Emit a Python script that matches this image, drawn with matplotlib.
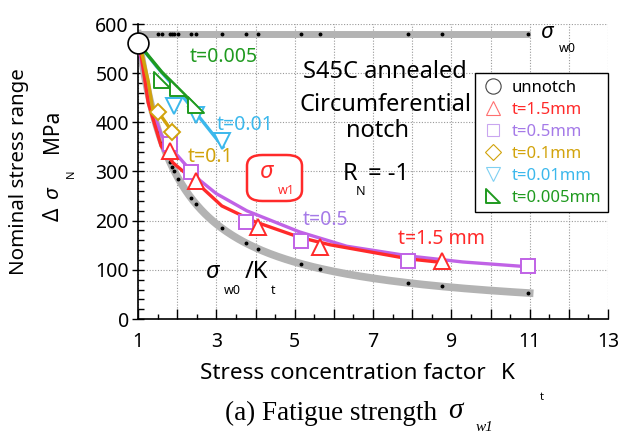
import matplotlib
matplotlib.use("Agg")
import numpy as np
import matplotlib.pyplot as plt
from matplotlib.lines import Line2D
from matplotlib.patches import FancyBboxPatch
from matplotlib.path import Path

plt.rcParams['font.family'] = ['Noto Sans', 'DejaVu Sans']

# ---- data ----
sigma_w0 = 580          # plain-specimen fatigue limit line
unnotch_kt = [1.0]
unnotch_s = [561]

# Kt values of the tested specimens (black dots on the reference lines)
kt_dots = [1.52, 1.62, 1.82, 1.88, 1.93, 2.03, 2.35, 2.48, 3.15, 3.76,
           4.06, 5.15, 5.65, 7.89, 8.76, 10.97]

# markers (experimental sigma_w1)
red_kt = [1.82, 2.48, 4.06, 5.65, 8.76]
red_s = [341, 281, 187, 146, 118]
vio_kt = [1.82, 2.35, 3.76, 5.15, 7.89, 10.97]
vio_s = [356, 299, 197, 159, 118, 108]
gold_kt = [1.52, 1.88]
gold_s = [421, 380]
cyan_kt = [1.93, 2.48, 3.15]
cyan_s = [433, 415, 362]
green_kt = [1.62, 2.03, 2.48]
green_s = [486, 470, 435]

# curves through each series
red_line_kt = [1.0, 1.08, 1.26, 1.59, 1.89, 2.5, 3.14, 3.98, 5.13, 5.9, 7.94, 8.76]
red_line_s = [561, 537, 440, 352, 318, 277, 230, 198, 166, 151, 122, 115]
vio_line_kt = [1.0, 1.1, 1.3, 1.59, 1.87, 2.2, 2.58, 3.0, 3.78, 5.13, 6.33, 7.94, 9.29, 11.0]
vio_line_s = [561, 520, 440, 375, 345, 315, 282, 255, 220, 177, 148, 128, 116, 106]
gold_line_kt = [1.0, 1.08, 1.26, 1.38, 1.52, 1.88]
gold_line_s = [561, 547, 484, 425, 421, 380]
cyan_line_kt = [1.0, 1.48, 2.15, 3.17]
cyan_line_s = [561, 513, 452, 350]
green_line_kt = [1.0, 1.61, 1.99, 2.63]
green_line_s = [561, 502, 472, 421]

RED = "#ff2a2a"
VIO = "#c062e6"
VIO_T = "#a57ae8"
GOLD = "#d2a30c"
CYAN = "#3cb8ec"
GREEN = "#1f9a1f"
GRAY = "#b3b3b3"

W, H = 619, 436
fig = plt.figure(figsize=(W / 100, H / 100), dpi=100)
ax = fig.add_axes([138 / W, 1 - 319 / H, 470 / W, 295 / H])


def px(x, y):
    return x / W, 1 - y / H


# sigma_w0 line and sigma_w0/Kt curve
ax.plot([1, 11], [sigma_w0, sigma_w0], color=GRAY, lw=5, zorder=2, solid_capstyle="butt")
ax.plot(kt_dots, [sigma_w0] * len(kt_dots), "o", color="k", ms=1.8, zorder=3)
kt_curve = np.linspace(1, 11, 200)
ax.plot(kt_curve, sigma_w0 / kt_curve, color=GRAY, lw=5.5, zorder=2)
ax.plot(kt_dots, sigma_w0 / np.array(kt_dots), "o", color="k", ms=1.8, zorder=3)

# series lines
ax.plot(vio_line_kt, vio_line_s, color=VIO, lw=2.4, zorder=4)
ax.plot(red_line_kt, red_line_s, color=RED, lw=2.4, zorder=4)
ax.plot(gold_line_kt, gold_line_s, color=GOLD, lw=2.4, zorder=4)
ax.plot(cyan_line_kt, cyan_line_s, color=CYAN, lw=2.4, zorder=4)
ax.plot(green_line_kt, green_line_s, color=GREEN, lw=2.4, zorder=4)

corner_tri = Path([(-1, 1), (-1, -1), (1, -1), (-1, 1)],
                  [Path.MOVETO, Path.LINETO, Path.LINETO, Path.CLOSEPOLY])

mk = dict(mfc="white", mew=1.4, ls="none", zorder=6)
ax.plot(vio_kt, vio_s, "s", mec=VIO, ms=10, **mk)
ax.plot(red_kt, red_s, "^", mec=RED, ms=11, **mk)
ax.plot(gold_kt, gold_s, "D", mec=GOLD, ms=8.5, **mk)
ax.plot(cyan_kt, cyan_s, "v", mec=CYAN, ms=11, **mk)
ax.plot(green_kt, green_s, marker=corner_tri, mec=GREEN, ms=11, **mk)
ax.plot(unnotch_kt, unnotch_s, "o", mec="k", ms=15, mfc="white", mew=1.2,
        ls="none", zorder=7, clip_on=False)

# axes styling
ax.set_xlim(1, 13)
ax.set_ylim(0, 600)
ax.set_xticks(range(1, 14))
ax.set_xticklabels([str(v) if v % 2 else "" for v in range(1, 14)])
ax.set_xticks(np.arange(1.5, 13, 1), minor=True)
ax.set_yticks(range(0, 601, 100))
ax.set_yticks(range(0, 601, 20), minor=True)
for s in ["top", "right"]:
    ax.spines[s].set_visible(False)
ax.spines["left"].set_linewidth(1.2)
ax.spines["bottom"].set_linewidth(1.2)
ax.tick_params(axis="x", which="major", direction="in", length=7, width=1, labelsize=14, pad=9)
ax.tick_params(axis="x", which="minor", direction="in", length=3.5, width=1)
ax.tick_params(axis="y", which="major", direction="inout", length=9, width=1, labelsize=14, pad=2)
ax.tick_params(axis="y", which="minor", direction="in", length=4, width=1)
ax.grid(True, which="major", color="#999999", ls=(0, (1, 1.5)), lw=0.8)
ax.set_axisbelow(True)

# in-plot annotations
ax.text(2.33, 533, "t=0.005", color=GREEN, fontsize=14, va="center", ha="left")
ax.text(3.02, 395, "t=0.01", color=CYAN, fontsize=14, va="center", ha="left")
ax.text(2.28, 330, "t=0.1", color=GOLD, fontsize=14, va="center", ha="left")
ax.text(5.2, 201, "t=0.5", color=VIO_T, fontsize=14, va="center", ha="left")
ax.text(7.63, 163, "t=1.5 mm", color=RED, fontsize=14, va="center", ha="left")

fig.text(*px(385, 72), "S45C annealed", fontsize=17, ha="center", va="center")
fig.text(*px(385, 105), "Circumferential", fontsize=17, ha="center", va="center")
fig.text(*px(378, 131), "notch", fontsize=17, ha="center", va="center")
fig.text(*px(350, 174), "R", fontsize=17, ha="center", va="center")
fig.text(*px(361, 191), "N", fontsize=9, ha="center", va="center")
fig.text(*px(388, 174), "= -1", fontsize=17, ha="center", va="center")

# sigma_w1 boxed label
box = FancyBboxPatch((247 / W, 1 - 201 / H), 55 / W, 46 / H,
                     boxstyle="round,pad=0,rounding_size=0.025",
                     transform=fig.transFigure, fc="white", ec=RED, lw=1.8, zorder=5)
fig.patches.append(box)
fig.text(*px(266, 172), "σ", color=RED, fontsize=17, style="italic", ha="center", va="center", zorder=6)
fig.text(*px(286, 190), "w1", color=RED, fontsize=9, ha="center", va="center", zorder=6)

# sigma_w0 labels
fig.text(*px(546, 32), "σ", fontsize=16, style="italic", ha="center", va="center")
fig.text(*px(567, 49), "w0", fontsize=9, ha="center", va="center")
fig.text(*px(212, 272), "σ", fontsize=17, style="italic", ha="center", va="center")
fig.text(*px(232, 290), "w0", fontsize=9, ha="center", va="center")
fig.text(*px(256, 272), "/K", fontsize=17, ha="center", va="center")
fig.text(*px(273, 290), "t", fontsize=9, ha="center", va="center")

# legend
handles = [
    Line2D([], [], marker="o", ls="none", mfc="none", mec="#444444", ms=11, mew=0.8),
    Line2D([], [], marker="^", ls="none", mfc="none", mec="#ff7070", ms=10, mew=0.8),
    Line2D([], [], marker="s", ls="none", mfc="none", mec="#c9a6f0", ms=9, mew=0.8),
    Line2D([], [], marker="D", ls="none", mfc="none", mec=GOLD, ms=8, mew=0.8),
    Line2D([], [], marker="v", ls="none", mfc="none", mec="#7fd0f2", ms=10, mew=0.8),
    Line2D([], [], marker=corner_tri, ls="none", mfc="none", mec=GREEN, ms=10, mew=1.4),
]
labels = ["unnotch", "t=1.5mm", "t=0.5mm", "t=0.1mm", "t=0.01mm", "t=0.005mm"]
leg = ax.legend(handles, labels, loc="upper right", bbox_to_anchor=(1.0, 0.834),
                fontsize=12, frameon=True, fancybox=False, framealpha=1,
                edgecolor="black", handletextpad=0.5, labelspacing=0.36,
                borderpad=0.4, handlelength=1.3, borderaxespad=0)
leg.get_frame().set_linewidth(1.0)
for txt, c in zip(leg.get_texts(), ["black", RED, VIO_T, GOLD, CYAN, GREEN]):
    txt.set_color(c)
leg.set_zorder(10)

# axis labels
fig.text(*px(343, 373), "Stress concentration factor", fontsize=16.2, ha="center", va="center")
fig.text(*px(508, 373), "K", fontsize=16.2, ha="center", va="center")
fig.text(*px(542, 397), "t", fontsize=8, ha="center", va="center")
fig.text(*px(19, 172), "Nominal stress range", fontsize=14.8, rotation=90, ha="center", va="center")
fig.text(*px(53, 214), "Δ", fontsize=15, rotation=90, ha="center", va="center")
fig.text(*px(53, 193), "σ", fontsize=15, style="italic", rotation=90, ha="center", va="center")
fig.text(*px(71, 174), "N", fontsize=8, rotation=90, ha="center", va="center")
fig.text(*px(53, 131), "MPa", fontsize=15, rotation=90, ha="center", va="center")

# caption
fig.text(*px(331, 413), "(a) Fatigue strength", fontsize=19.5, family="Liberation Serif",
         ha="center", va="center")
fig.text(*px(455, 411), "σ", fontsize=21, family="Liberation Serif", style="italic",
         ha="center", va="center")
fig.text(*px(485, 427), "w1", fontsize=11, family="Liberation Serif", style="italic",
         ha="center", va="center")

fig.savefig("out.png", dpi=100)
